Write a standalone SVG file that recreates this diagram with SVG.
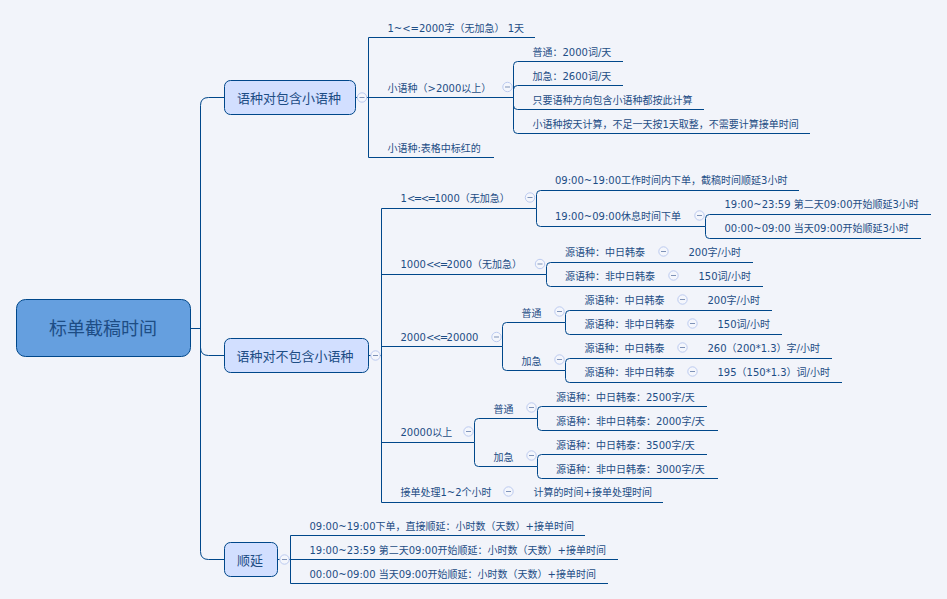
<svg xmlns="http://www.w3.org/2000/svg" xmlns:xlink="http://www.w3.org/1999/xlink" width="947" height="599" viewBox="0 0 947 599">
<style>
text{font-family:"DejaVu Sans","Noto Sans CJK SC",sans-serif;fill:#1d4d85}
.t{font-size:10px}
.op{letter-spacing:-1.5px}
.n{font-size:13px;text-anchor:middle;font-family:"Noto Sans CJK SC",sans-serif}
.r{font-size:18px;text-anchor:middle;font-family:"Noto Sans CJK SC",sans-serif}
.c{fill:none;stroke:#00478a;stroke-width:1}
.box{fill:#d2dfff;stroke:#00478a}
.root{fill:#659fdf;stroke:#00478a}
</style>
<defs>
<g id="fold"><circle r="4.7" fill="#f4f6fc" stroke="#bccbf0"/><path d="M-2.5 0H2.5" stroke="#7f93b8"/></g>
</defs>
<rect width="947" height="599" fill="#f2f4fa"/>
<g id="connectors">
<path class="c" d="M190.5 328.5H200.5M224.5 97.5H208.5Q200.5 97.5 200.5 105.5V551.5Q200.5 559.5 208.5 559.5H224.5M200.5 347.5Q200.5 355.5 208.5 355.5H224.5"/>
<path class="c" d="M355.5 97.5H357.5M366.5 97.5H513.5M368.5 37.5V157.5M368.5 37.5H535M368.5 157.5H494"/>
<path class="c" d="M513.5 97.5V65.5Q513.5 61.5 517.5 61.5H623M513.5 97.5V89.5Q513.5 85.5 517.5 85.5H623M513.5 97.5V105.5Q513.5 109.5 517.5 109.5H704M513.5 97.5V129.5Q513.5 133.5 517.5 133.5H810"/>
<path class="c" d="M368.5 355.5H371M380 355.5H381.5M381.5 208.5V502.5M381.5 208.5H536.5M381.5 274.5H546.5M381.5 346.5H502.5M381.5 442.5H474.5M381.5 502.5H663"/>
<path class="c" d="M536.5 208.5V194.5Q536.5 190.5 540.5 190.5H799M536.5 208.5V222.5Q536.5 226.5 540.5 226.5H705.5"/>
<path class="c" d="M705.5 226.5V218.5Q705.5 214.5 709.5 214.5H931M705.5 226.5V234.5Q705.5 238.5 709.5 238.5H921"/>
<path class="c" d="M546.5 274.5V266.5Q546.5 262.5 550.5 262.5H753M546.5 274.5V282.5Q546.5 286.5 550.5 286.5H763"/>
<path class="c" d="M502.5 346.5V326.5Q502.5 322.5 506.5 322.5H565.5M502.5 346.5V366.5Q502.5 370.5 506.5 370.5H565.5"/>
<path class="c" d="M565.5 322.5V314.5Q565.5 310.5 569.5 310.5H772M565.5 322.5V330.5Q565.5 334.5 569.5 334.5H782M565.5 370.5V362.5Q565.5 358.5 569.5 358.5H832M565.5 370.5V378.5Q565.5 382.5 569.5 382.5H842"/>
<path class="c" d="M474.5 442.5V422.5Q474.5 418.5 478.5 418.5H537.5M474.5 442.5V462.5Q474.5 466.5 478.5 466.5H537.5"/>
<path class="c" d="M537.5 418.5V410.5Q537.5 406.5 541.5 406.5H707M537.5 418.5V426.5Q537.5 430.5 541.5 430.5H718M537.5 466.5V458.5Q537.5 454.5 541.5 454.5H707M537.5 466.5V474.5Q537.5 478.5 541.5 478.5H718"/>
<path class="c" d="M277.5 559.5H280M289 559.5H618M290.5 535.5V583.5M290.5 535.5H585M290.5 583.5H608"/>
</g>
<g id="root"><rect class="root" x="16.5" y="299.5" width="174" height="57" rx="9"/><text class="r" x="103" y="335">标单截稿时间</text></g>
<g id="n1"><rect class="box" x="224.5" y="80.5" width="131" height="34" rx="6"/><text class="n" x="289" y="102.5">语种对包含小语种</text><use href="#fold" x="362" y="97.5"/></g>
<g id="n2"><rect class="box" x="224.5" y="338.5" width="144" height="34" rx="6"/><text class="n" x="295" y="361">语种对不包含小语种</text><use href="#fold" x="375.5" y="355.5"/></g>
<g id="n3"><rect class="box" x="224.5" y="542.5" width="53" height="34" rx="6"/><text class="n" x="250" y="565">顺延</text><use href="#fold" x="284.5" y="559.5"/></g>
<g id="a1"><text class="t" x="387.5" y="31.5">1~&lt;=2000字（无加急） 1天</text></g>
<g id="a2"><text class="t" x="387.5" y="91.5">小语种（&gt;2000以上）</text><use href="#fold" x="507.5" y="87"/></g>
<g id="a3"><text class="t" x="387.5" y="151.5">小语种:表格中标红的</text></g>
<g id="a21"><text class="t" x="532.5" y="55.5">普通：2000词/天</text></g>
<g id="a22"><text class="t" x="532.5" y="79.5">加急：2600词/天</text></g>
<g id="a23"><text class="t" x="532.5" y="103.5">只要语种方向包含小语种都按此计算</text></g>
<g id="a24"><text class="t" x="532.5" y="127.5">小语种按天计算，不足一天按1天取整，不需要计算接单时间</text></g>
<g id="b1"><text class="t" x="400.5" y="202">1<tspan class="op">&lt;=&lt;=</tspan>1000（无加急）</text><use href="#fold" x="530" y="197.5"/></g>
<g id="b11"><text class="t" x="555" y="184">09:00~19:00工作时间内下单，截稿时间顺延3小时</text></g>
<g id="b12"><text class="t" x="555" y="220">19:00~09:00休息时间下单</text><use href="#fold" x="699.5" y="215.5"/></g>
<g id="b121"><text class="t" x="724.5" y="208">19:00~23:59 第二天09:00开始顺延3小时</text></g>
<g id="b122"><text class="t" x="724.5" y="232">00:00~09:00 当天09:00开始顺延3小时</text></g>
<g id="b2"><text class="t" x="400.5" y="268">1000<tspan class="op">&lt;&lt;=</tspan>2000（无加急）</text><use href="#fold" x="540" y="264"/></g>
<g id="b21"><text class="t" x="565" y="256">源语种：中日韩泰</text><use href="#fold" x="663.5" y="251.5"/><text class="t" x="688.5" y="256">200字/小时</text></g>
<g id="b22"><text class="t" x="565" y="280">源语种：非中日韩泰</text><use href="#fold" x="673.5" y="275.5"/><text class="t" x="698.5" y="280">150词/小时</text></g>
<g id="b3"><text class="t" x="400.5" y="341">2000<tspan class="op">&lt;&lt;=</tspan>20000</text><use href="#fold" x="496.5" y="337"/></g>
<g id="b31"><text class="t" x="521.5" y="316.5">普通</text><use href="#fold" x="559.5" y="311.5"/></g>
<g id="b32"><text class="t" x="521.5" y="364.5">加急</text><use href="#fold" x="559.5" y="359.5"/></g>
<g id="b311"><text class="t" x="584.5" y="304">源语种：中日韩泰</text><use href="#fold" x="682.5" y="299.5"/><text class="t" x="707.5" y="304">200字/小时</text></g>
<g id="b312"><text class="t" x="584.5" y="328">源语种：非中日韩泰</text><use href="#fold" x="692.5" y="323.5"/><text class="t" x="717.5" y="328">150词/小时</text></g>
<g id="b321"><text class="t" x="584.5" y="352">源语种：中日韩泰</text><use href="#fold" x="682.5" y="347.5"/><text class="t" x="707.5" y="352">260（200*1.3）字/小时</text></g>
<g id="b322"><text class="t" x="584.5" y="376">源语种：非中日韩泰</text><use href="#fold" x="692.5" y="371.5"/><text class="t" x="717.5" y="376">195（150*1.3）词/小时</text></g>
<g id="b4"><text class="t" x="400.5" y="436">20000以上</text><use href="#fold" x="468.5" y="431.5"/></g>
<g id="b41"><text class="t" x="493.5" y="412.5">普通</text><use href="#fold" x="531.5" y="407.5"/></g>
<g id="b42"><text class="t" x="493.5" y="460.5">加急</text><use href="#fold" x="531.5" y="455.5"/></g>
<g id="b411"><text class="t" x="556" y="400.5">源语种：中日韩泰：2500字/天</text></g>
<g id="b412"><text class="t" x="556" y="424.5">源语种：非中日韩泰：2000字/天</text></g>
<g id="b421"><text class="t" x="556" y="448.5">源语种：中日韩泰：3500字/天</text></g>
<g id="b422"><text class="t" x="556" y="472.5">源语种：非中日韩泰：3000字/天</text></g>
<g id="b5"><text class="t" x="400.5" y="496">接单处理1~2个小时</text><use href="#fold" x="508.5" y="491.5"/><text class="t" x="533.5" y="496">计算的时间+接单处理时间</text></g>
<g id="c1"><text class="t" x="309.5" y="529.5">09:00~19:00下单，直接顺延：小时数（天数）+接单时间</text></g>
<g id="c2"><text class="t" x="309.5" y="553.5">19:00~23:59 第二天09:00开始顺延：小时数（天数）+接单时间</text></g>
<g id="c3"><text class="t" x="309.5" y="577.5">00:00~09:00 当天09:00开始顺延：小时数（天数）+接单时间</text></g>
</svg>
